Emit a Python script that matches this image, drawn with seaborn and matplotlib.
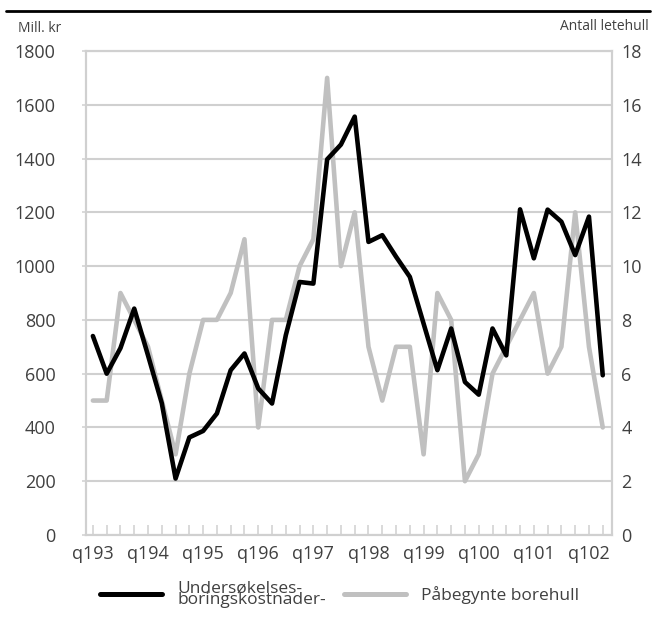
import pandas as pd
import matplotlib
matplotlib.use('Agg')
import matplotlib.pyplot as plt
from matplotlib.lines import Line2D
import seaborn as sns

# Data, kvartalsvis 1993 K1 - 2002 K2
kvartal = list(range(38))
kostnader = [740, 600, 695, 842, 668, 490, 210, 363, 387, 452,
             613, 675, 545, 489, 743, 941, 935, 1397, 1452, 1556,
             1090, 1115, 1035, 960, 786, 613, 768, 569, 522, 768,
             668, 1211, 1029, 1210, 1165, 1041, 1184, 594]
borehull = [5, 5, 9, 8, 7, 5, 3, 6, 8, 8,
            9, 11, 4, 8, 8, 10, 11, 17, 10, 12,
            7, 5, 7, 7, 3, 9, 8, 2, 3, 6,
            7, 8, 9, 6, 7, 12, 7, 4]
x_etiketter = ['q193', 'q194', 'q195', 'q196', 'q197',
               'q198', 'q199', 'q100', 'q101', 'q102']

data = pd.DataFrame({'kvartal': kvartal, 'kostnader': kostnader, 'borehull': borehull})

sns.set_style('white')
plt.rcParams['font.family'] = ['Open Sans', 'DejaVu Sans']

tekst = '#404040'
grid = '#d0d0d0'

fig = plt.figure(figsize=(6.56, 6.17), dpi=100)
ax = fig.add_axes([86 / 656, 1 - 535 / 617, (611.7 - 86) / 656, (535 - 51) / 617])
ax2 = ax.twinx()

# høyre akse under, med rutenett og grå linje
ax.set_zorder(ax2.get_zorder() + 1)
ax.patch.set_visible(False)

sns.lineplot(data=data, x='kvartal', y='borehull', ax=ax2, color='#c0c0c0', linewidth=3.3, label='Påbegynte borehull', legend=False)
sns.lineplot(data=data, x='kvartal', y='kostnader', ax=ax, color='black', linewidth=3.3, label='Undersøkelses-\nboringskostnader-', legend=False)

ax.set_xlim(-0.5, 37.65)
ax.set_ylim(0, 1800)
ax2.set_ylim(0, 18)
ax.set_yticks(range(0, 1801, 200))
ax2.set_yticks(range(0, 19, 2))
ax.set_xticks(range(0, 38, 4))
ax.set_xticklabels(x_etiketter)
ax.set_xticks(kvartal, minor=True)
ax2.set_xticks(range(0, 38, 4))

ax2.grid(True, color=grid, linewidth=1.5)
ax.grid(False)
ax2.set_axisbelow(True)

for a in (ax, ax2):
    a.set_xlabel('')
    a.set_ylabel('')
    for s in a.spines.values():
        s.set_color(grid)
        s.set_linewidth(1.5)

ax.tick_params(axis='x', which='both', direction='in', length=7, width=1.1, color=grid,
               labelsize=13, labelcolor=tekst, pad=7, bottom=True)
ax.tick_params(axis='y', direction='out', length=3, width=1.1, color=grid,
               labelsize=13, labelcolor=tekst, pad=19, left=True)
ax2.tick_params(axis='y', length=0, labelsize=13, labelcolor=tekst, pad=7)

fig.text(18 / 656, 1 - 28 / 617, 'Mill. kr', fontsize=10, color=tekst, va='center', ha='left')
fig.text(649 / 656, 1 - 27 / 617, 'Antall letehull', fontsize=10, color=tekst, va='center', ha='right')

# svart strek øverst
fig.add_artist(Line2D([6 / 656, 650 / 656], [1 - 11 / 617, 1 - 11 / 617], color='black', linewidth=2))

h1, l1 = ax.get_legend_handles_labels()
h2, l2 = ax2.get_legend_handles_labels()
leg = fig.legend(h1 + h2, l1 + l2, loc='center left', bbox_to_anchor=(100 / 656, 1 - 594 / 617),
                 ncol=2, frameon=False, fontsize=12.5, handlelength=3.55, handletextpad=0.9,
                 columnspacing=1.05, borderpad=0, borderaxespad=0)
for t in leg.get_texts():
    t.set_linespacing(0.6)
    t.set_color(tekst)
for line in leg.get_lines():
    line.set_linewidth(3.6)

fig.savefig('out.png', dpi=100)
